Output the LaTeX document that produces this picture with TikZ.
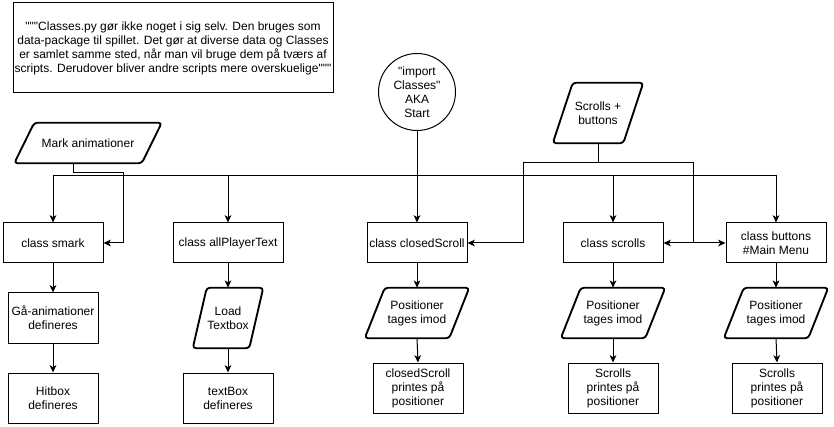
\documentclass[tikz,border=0pt]{standalone}
\usepackage{fontspec}
\setmainfont{Liberation Sans}[Ligatures=TeXOff]
\usetikzlibrary{arrows.meta,calc}
\newcommand\parashape[2]{\draw[pline] (#1.south west) -- ([xshift=#2*0.75pt]#1.north west) -- (#1.north east) -- ([xshift=-#2*0.75pt]#1.south east) -- cycle;}
\begin{document}
\begin{tikzpicture}[x=0.75pt,y=-0.75pt,
  font=\fontsize{9}{10.5}\selectfont,
  sz/.style 2 args={minimum width=#1*0.75pt, minimum height=#2*0.75pt},
  box/.style={draw, line width=0.75pt, align=center, inner sep=0pt},
  para/.style={align=center, inner sep=0pt},
  pline/.style={line width=1.4pt, rounded corners=2.5pt, line join=round},
  arr/.style={line width=0.75pt, -{Stealth[length=5.5pt,width=5pt,inset=1.5pt]}},
  ln/.style={line width=0.75pt}]
\fill[white] (0,0) rectangle (834,427);
\useasboundingbox (0,0) rectangle (834,427);

% note
\node[box, sz={320}{90}] (note) at (173,48) {"""Classes.py gør ikke noget i sig selv. Den bruges som\\data-package til spillet. Det gør at diverse data og Classes\\er samlet samme sted, når man vil bruge dem på tværs af\\scripts. Derudover bliver andre scripts mere overskuelige"""};

% start circle
\node[draw, circle, line width=0.75pt, minimum size=77*0.75pt, align=center, inner sep=0pt] (circ) at (417,92) {"import\\Classes"\\AKA\\Start};

% input parallelograms
\node[para, sz={147}{40}] (mark) at (88,143) {Mark animationer};
\parashape{mark}{20}
\node[para, sz={90}{60}] (sb) at (598,113) {Scrolls +\\buttons};
\parashape{sb}{20}

% class boxes
\node[box, sz={100}{40}] (smark) at (53,243) {class smark};
\node[box, sz={110}{40}] (apt) at (228,243) {class allPlayerText};
\node[box, sz={100}{40}] (cs) at (417,243) {class closedScroll};
\node[box, sz={100}{40}] (sc) at (613,243) {class scrolls};
\node[box, sz={100}{40}] (bt) at (776,243) {class buttons\\\#Main Menu};

% second row
\node[box, sz={90}{50}] (gaa) at (53,318) {Gå-animationer\\defineres};
\node[para, sz={70}{60}] (load) at (228,318) {Load\\Textbox};
\parashape{load}{14}
\node[para, sz={104}{50}] (csp) at (417,313) {Positioner\\tages imod};
\parashape{csp}{20}
\node[para, sz={104}{50}] (scp) at (613,313) {Positioner\\tages imod};
\parashape{scp}{20}
\node[para, sz={104}{50}] (btp) at (776,313) {Positioner\\tages imod};
\parashape{btp}{20}

% third row
\node[box, sz={90}{50}] (hit) at (53,398) {Hitbox\\defineres};
\node[box, sz={90}{50}] (tbd) at (228,398) {textBox\\defineres};
\node[box, sz={90}{50}] (csq) at (418,388) {closedScroll\\printes på\\positioner};
\node[box, sz={90}{50}] (scq) at (613,388) {Scrolls\\printes på\\positioner};
\node[box, sz={90}{50}] (btq) at (777,388) {Scrolls\\printes på\\positioner};

% junction coordinates
\coordinate (bus) at (417,176);
\coordinate (mk1) at (123,173);
\coordinate (sbl) at (523,163);
\coordinate (sbr) at (693,163);

% start -> classes
\draw[arr] (circ.south) -- (cs.north);
\draw[arr] (circ.south) |- (bus) -| (smark.north);
\draw[arr] (circ.south) |- (bus) -| (apt.north);
\draw[arr] (circ.south) |- (bus) -| (sc.north);
\draw[arr] (circ.south) |- (bus) -| (bt.north);

% mark animationer -> smark
\draw[arr] ($(mark.south)+(-15,0)$) |- (mk1) |- (smark.east);

% scrolls + buttons
\draw[arr] (sb.south) |- (sbl) |- (cs.east);
\draw[arr] (sb.south) |- (sbr) |- (sc.east);
\draw[arr] (sb.south) |- (sbr) |- (bt.west);

% chains
\draw[arr] (smark) -- (gaa);
\draw[arr] (gaa) -- (hit);
\draw[arr] (apt) -- (load);
\draw[arr] (load) -- (tbd);
\draw[arr] (cs) -- (csp);
\draw[arr] (csp.south) -- (csq.north);
\draw[arr] (sc) -- (scp);
\draw[arr] (scp) -- (scq);
\draw[arr] (bt) -- (btp);
\draw[arr] (btp.south) -- (btq.north);
\end{tikzpicture}
\end{document}
